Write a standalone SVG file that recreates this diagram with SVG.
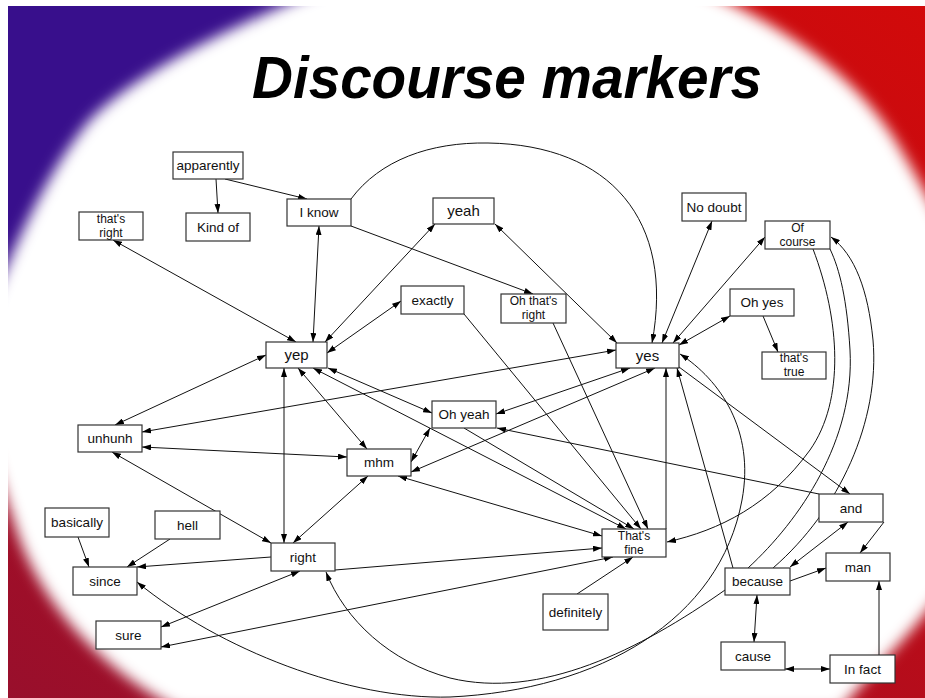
<svg xmlns="http://www.w3.org/2000/svg" width="925" height="698" viewBox="0 0 925 698">
<defs>
<linearGradient id="redg" x1="1" y1="0" x2="0" y2="1">
<stop offset="0" stop-color="#d20a0a"/>
<stop offset="1" stop-color="#980f2c"/>
</linearGradient>
<filter id="soft" x="-10%" y="-10%" width="120%" height="120%">
<feGaussianBlur stdDeviation="7"/>
</filter>
<marker id="ah" viewBox="0 0 9 6" refX="9" refY="3" markerWidth="9" markerHeight="6" markerUnits="userSpaceOnUse" orient="auto-start-reverse">
<path d="M0,0L9,3L0,6z" fill="#000"/>
</marker>
<style>
.n rect{fill:#fff;stroke:#333;stroke-width:1.2}
.n text{font-family:"Liberation Sans",Arial,sans-serif;font-size:13.5px;fill:#111;text-anchor:middle}
.n.big text{font-size:15px}
.n.two text{font-size:12px}
.e path{fill:none;stroke:#111;stroke-width:1}
.e .a{marker-end:url(#ah)}
.e .d{marker-start:url(#ah);marker-end:url(#ah)}
.title{font-family:"Liberation Sans",Arial,sans-serif;font-weight:bold;font-style:italic;font-size:60px;fill:#000;text-anchor:middle}
</style>
</defs>

<g id="background">
<rect x="0" y="0" width="925" height="698" fill="url(#redg)"/>
<path d="M0,0 L520,0 L0,400 Z" fill="#380f8c"/>
<path filter="url(#soft)" fill="#fff" d="M370,-30 L640,-30 C720,-10 840,50 895,140 C925,190 945,230 960,260 L960,560 C930,620 880,660 840,710 L180,710 C120,680 50,620 20,540 C0,480 -20,420 -20,380 L-20,330 C10,260 40,180 90,120 C150,60 270,10 370,-30 Z"/>
<rect x="0" y="0" width="8" height="698" fill="#fff"/>
<rect x="0" y="0" width="925" height="6" fill="#fff"/>
</g>

<text class="title" x="507" y="98" textLength="510" lengthAdjust="spacingAndGlyphs">Discourse markers</text>

<g id="connectors" class="e">
<path class="a" d="M216,179 L218,213"/>
<path class="a" d="M225,179 L307,199"/>
<path class="a" d="M351,226 L533,294"/>
<path class="d" d="M319,226 L313,342"/>
<path class="a" d="M351,199 C380,160 430,142 488,143 C610,145 675,220 652,343"/>
<path class="d" d="M113,240 L296,342"/>
<path class="d" d="M435,224 L325,342"/>
<path class="d" d="M401,301 L327,353"/>
<path class="a" d="M464,314 L641,529"/>
<path class="a" d="M553,323 L648,529"/>
<path class="d" d="M313,368 L626,529"/>
<path class="d" d="M328,368 L432,413"/>
<path class="a" d="M464,428 L634,529"/>
<path class="d" d="M430,428 L411,462"/>
<path class="d" d="M630,368 L496,414"/>
<path class="d" d="M655,368 L411,472"/>
<path class="d" d="M616,350 L142,432"/>
<path class="d" d="M266,355 L115,425"/>
<path class="d" d="M142,447 L347,457"/>
<path class="d" d="M112,452 L271,543"/>
<path class="d" d="M298,368 L367,449"/>
<path class="d" d="M284,368 L284,543"/>
<path class="d" d="M368,476 L293,543"/>
<path class="d" d="M398,476 L602,536"/>
<path class="a" d="M271,557 L137,567"/>
<path class="a" d="M335,570 L602,548"/>
<path class="d" d="M300,571 L161,627"/>
<path class="d" d="M161,647 L613,557"/>
<path class="a" d="M78,537 L89,567"/>
<path class="a" d="M170,539 L127,567"/>
<path class="d" d="M137,582 C220,650 350,700 450,697 C600,690 720,620 742,500 C755,430 720,380 680,354"/>
<path class="a" d="M725,590 C640,650 540,700 450,678 C390,662 345,620 326,572"/>
<path class="a" d="M733,568 L677,368"/>
<path class="a" d="M666,529 L666,368"/>
<path class="a" d="M679,367 L850,494"/>
<path class="a" d="M819,494 L497,428"/>
<path class="a" d="M813,249 C840,320 845,400 810,450 C770,505 720,530 667,542"/>
<path d="M748,568 C800,520 855,440 850,350 C847,300 840,270 830,249"/>
<path class="a" d="M773,568 C840,510 880,420 873,340 C868,290 855,255 831,237"/>
<path class="d" d="M848,522 L790,567"/>
<path class="a" d="M884,522 L860,553"/>
<path class="a" d="M790,581 L826,568"/>
<path class="d" d="M757,595 L754,642"/>
<path class="d" d="M785,669 L830,669"/>
<path class="a" d="M879,655 L879,581"/>
<path class="d" d="M662,343 L712,221"/>
<path class="d" d="M673,343 L765,237"/>
<path class="d" d="M679,345 L730,316"/>
<path class="a" d="M763,316 L778,352"/>
<path class="d" d="M495,224 L617,343"/>
<path class="a" d="M577,594 L633,557"/>
</g>

<g id="n-apparently" class="n"><rect x="173" y="152" width="70" height="27"/><text x="208" y="170">apparently</text></g>
<g id="n-kindof" class="n"><rect x="186" y="213" width="64" height="28"/><text x="218" y="232">Kind of</text></g>
<g id="n-iknow" class="n"><rect x="287" y="199" width="64" height="27"/><text x="319" y="217">I know</text></g>
<g id="n-thatsright" class="n two"><rect x="79" y="212" width="64" height="28"/><text x="111" y="223">that's</text><text x="111" y="237">right</text></g>
<g id="n-yeah" class="n big"><rect x="433" y="198" width="61" height="26"/><text x="463.5" y="216">yeah</text></g>
<g id="n-exactly" class="n"><rect x="401" y="286" width="63" height="28"/><text x="432.5" y="305">exactly</text></g>
<g id="n-ohthatsright" class="n two"><rect x="501" y="294" width="65" height="29"/><text x="533.5" y="305">Oh that's</text><text x="533.5" y="319">right</text></g>
<g id="n-nodoubt" class="n"><rect x="682" y="193" width="64" height="28"/><text x="714" y="212">No doubt</text></g>
<g id="n-ofcourse" class="n two"><rect x="765" y="221" width="65" height="28"/><text x="797.5" y="232">Of</text><text x="797.5" y="246">course</text></g>
<g id="n-ohyes" class="n"><rect x="730" y="289" width="64" height="27"/><text x="762" y="307">Oh yes</text></g>
<g id="n-thatstrue" class="n two"><rect x="762" y="352" width="64" height="27"/><text x="794" y="362">that's</text><text x="794" y="376">true</text></g>
<g id="n-yes" class="n big"><rect x="616" y="343" width="63" height="25"/><text x="647.5" y="361">yes</text></g>
<g id="n-yep" class="n big"><rect x="266" y="342" width="61" height="26"/><text x="296.5" y="360">yep</text></g>
<g id="n-unhunh" class="n"><rect x="78" y="425" width="64" height="27"/><text x="110" y="443">unhunh</text></g>
<g id="n-mhm" class="n"><rect x="347" y="449" width="64" height="27"/><text x="379" y="467">mhm</text></g>
<g id="n-ohyeah" class="n"><rect x="432" y="401" width="64" height="27"/><text x="464" y="419">Oh yeah</text></g>
<g id="n-basically" class="n"><rect x="45" y="508" width="64" height="29"/><text x="77" y="527">basically</text></g>
<g id="n-hell" class="n"><rect x="155" y="511" width="65" height="28"/><text x="187.5" y="530">hell</text></g>
<g id="n-since" class="n"><rect x="73" y="567" width="64" height="28"/><text x="105" y="586">since</text></g>
<g id="n-right" class="n"><rect x="271" y="543" width="64" height="28"/><text x="303" y="562">right</text></g>
<g id="n-sure" class="n"><rect x="96" y="621" width="65" height="28"/><text x="128.5" y="640">sure</text></g>
<g id="n-thatsfine" class="n two"><rect x="602" y="529" width="64" height="28"/><text x="634" y="540">That's</text><text x="634" y="554">fine</text></g>
<g id="n-definitely" class="n"><rect x="543" y="594" width="65" height="36"/><text x="575.5" y="617">definitely</text></g>
<g id="n-because" class="n"><rect x="725" y="568" width="65" height="27"/><text x="757.5" y="586">because</text></g>
<g id="n-and" class="n"><rect x="819" y="494" width="64" height="28"/><text x="851" y="513">and</text></g>
<g id="n-man" class="n"><rect x="826" y="553" width="64" height="28"/><text x="858" y="572">man</text></g>
<g id="n-cause" class="n"><rect x="721" y="642" width="64" height="28"/><text x="753" y="661">cause</text></g>
<g id="n-infact" class="n"><rect x="830" y="655" width="65" height="28"/><text x="862.5" y="674">In fact</text></g>
</svg>
